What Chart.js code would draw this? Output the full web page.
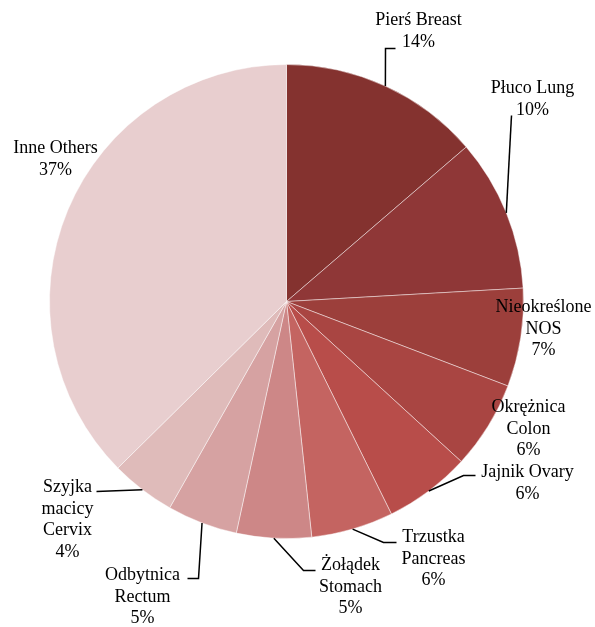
<!DOCTYPE html>
<html>
<head>
<meta charset="utf-8">
<script src="https://cdn.jsdelivr.net/npm/chart.js@4.4.1/dist/chart.umd.min.js"></script>
<style>
  html, body { margin: 0; padding: 0; background: #ffffff; }
  #wrap { width: 595px; height: 627px; position: relative; }
</style>
</head>
<body>
<div id="wrap"><canvas id="myChart" width="595" height="627"></canvas></div>
<script>
'use strict';

// data
let categories = ['Pierś\u00a0Breast', 'Płuco\u00a0Lung', 'Nieokreślone\nNOS', 'Okrężnica\nColon', 'Jajnik\u00a0Ovary',
    'Trzustka\nPancreas', 'Żołądek\nStomach', 'Odbytnica\nRectum', 'Szyjka\nmacicy\nCervix', 'Inne\u00a0Others'];
let shares = [13.7, 10.4, 6.7, 6.0, 5.9, 5.6, 5.1, 4.8, 4.4, 37.4];
let sliceColors = ['#84322f', '#8f3737', '#9c3f3b', '#a94542', '#b84d4a', '#c46461', '#cd8787', '#d6a2a2', '#dfbbba', '#e8cecf'];

// label placement, offsets from pie centre (px)
let labelAt = [[132, -281], [246, -213], [257, 6], [242, 106], [241, 171], [147, 236], [64, 264], [-144, 274], [-219, 186], [-231, -153]];
// leader lines: points after the arc edge point
let leaders = [
    [[99, -253], [109, -253]],
    [[225, -186]],
    null,
    null,
    [[177, 174], [189, 174]],
    [[97, 241], [110, 241]],
    [[17, 269], [29, 269]],
    [[-88, 277], [-99, 277]],
    [[-190, 190]],
    null
];

let total = shares.reduce(function (a, b) { return a + b; }, 0);

let labelPlugin = {
    id: 'pieLabels',
    afterDraw: function (chart) {
        let ctx = chart.ctx;
        let arcs = chart.getDatasetMeta(0).data;
        ctx.save();
        for (let i = 0; i < arcs.length; i++) {
            let arc = arcs[i];
            let cx = arc.x;
            let cy = arc.y;
            let mid = (arc.startAngle + arc.endAngle) / 2;
            let r = arc.outerRadius;

            if (leaders[i]) {
                ctx.beginPath();
                ctx.strokeStyle = '#000000';
                ctx.lineWidth = 1.5;
                ctx.moveTo(cx + Math.cos(mid) * r, cy + Math.sin(mid) * r);
                for (let p of leaders[i]) {
                    ctx.lineTo(cx + p[0], cy + p[1]);
                }
                ctx.stroke();
            }

            let lines = categories[i].split('\n').map(function (s) { return s.replace(/\u00a0/g, ' '); });
            lines.push(Math.round(shares[i] / total * 100) + '%');
            ctx.fillStyle = '#000000';
            ctx.font = '18px "Liberation Serif", "Times New Roman", serif';
            ctx.textAlign = 'center';
            ctx.textBaseline = 'middle';
            for (let k = 0; k < lines.length; k++) {
                ctx.fillText(lines[k], cx + labelAt[i][0], cy + labelAt[i][1] + k * 21.5);
            }
        }
        ctx.restore();
    }
};

let ctx = document.getElementById('myChart').getContext('2d');
let myChart = new Chart(ctx, {
    type: 'pie',
    data: {
        labels: categories,
        datasets: [{
            data: shares,
            backgroundColor: sliceColors,
            borderColor: 'rgba(255, 255, 255, 0.45)',
            borderWidth: 1
        }]
    },
    options: {
        responsive: false,
        animation: false,
        layout: {
            padding: { left: 49, top: 64, right: 71, bottom: 88 }
        },
        plugins: {
            legend: { display: false },
            tooltip: { enabled: false }
        }
    },
    plugins: [labelPlugin]
});
</script>
</body>
</html>
